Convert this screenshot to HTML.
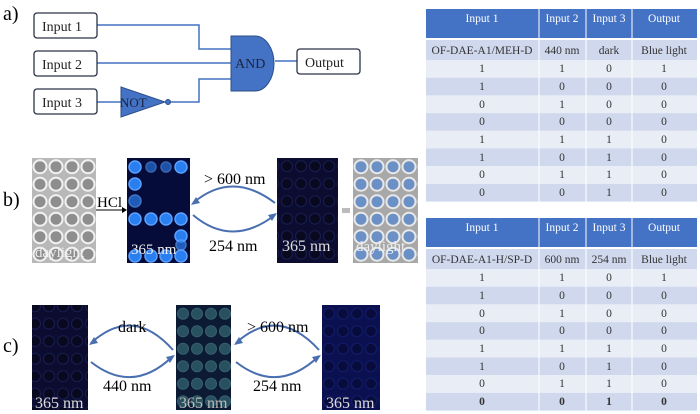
<!DOCTYPE html>
<html><head><style>
body{margin:0;background:#fff;}
svg{display:block;font-family:"Liberation Serif",serif;}
</style></head><body>
<svg width="700" height="414" viewBox="0 0 700 414" xmlns="http://www.w3.org/2000/svg">
<defs>
<pattern id="wd" x="32" y="158" width="16" height="17.5" patternUnits="userSpaceOnUse"><rect width="16" height="17.5" fill="#b8b8b8"/><circle cx="8" cy="8.7" r="6.5" fill="#8e8e8e" stroke="#f2f2f2" stroke-width="2"/></pattern>
<pattern id="wd2" x="353" y="158" width="16" height="17.5" patternUnits="userSpaceOnUse"><rect width="16" height="17.5" fill="#a8a8a8"/><circle cx="8" cy="8.7" r="6.5" fill="#6a90c5" stroke="#e8e8e8" stroke-width="2"/></pattern>
<pattern id="dk" width="14" height="17.5" patternUnits="userSpaceOnUse"><rect width="14" height="17.5" fill="#0c0c30"/><circle cx="7" cy="8.7" r="5.5" fill="#08081f" stroke="#161b4c" stroke-width="1.2"/></pattern>
<pattern id="dk3" x="322" y="305" width="14" height="17.5" patternUnits="userSpaceOnUse"><rect width="14" height="17.5" fill="#0a1050"/><circle cx="7" cy="8.7" r="5.5" fill="#070c3c" stroke="#121a66" stroke-width="1.2"/></pattern>
<pattern id="gr" x="176" y="305" width="14" height="17.5" patternUnits="userSpaceOnUse"><rect width="14" height="17.5" fill="#0d1a33"/><circle cx="7" cy="8.7" r="5.5" fill="#28505f" stroke="#34606e" stroke-width="1"/></pattern>
</defs>
<!-- panel a -->
<text x="3" y="20" font-size="20">a)</text>
<g fill="none" stroke="#4472c4" stroke-width="1.5">
<polyline points="97,25 199,25 199,49 232,49"/>
<line x1="97" y1="63" x2="232" y2="63"/>
<line x1="97" y1="102" x2="121" y2="102"/>
<polyline points="170,102 199,102 199,79 232,79"/>
<line x1="275" y1="61" x2="297" y2="61"/>
</g>
<g fill="#fff" stroke="#2a3346" stroke-width="1.3">
<rect x="34" y="13" width="63" height="25" rx="3"/>
<rect x="34" y="51" width="63" height="25" rx="3"/>
<rect x="34" y="89" width="63" height="25" rx="3"/>
<rect x="297" y="49" width="63" height="25" rx="3"/>
</g>
<g font-size="14" fill="#222">
<text x="42" y="31">Input 1</text>
<text x="42" y="69">Input 2</text>
<text x="42" y="107">Input 3</text>
<text x="305" y="67">Output</text>
</g>
<path d="M231,36 H255 A19,27.5 0 0 1 255,91 H231 Z" fill="#4472c4" stroke="#2e4f8a" stroke-width="1"/>
<text x="235" y="68" font-size="14" fill="#1a2540">AND</text>
<path d="M121,87 L165,102 L121,117 Z" fill="#4472c4" stroke="#2e4f8a" stroke-width="1"/>
<circle cx="168" cy="102" r="2.5" fill="#4472c4" stroke="#2e4f8a"/>
<text x="120" y="107" font-size="13" fill="#1a2540">NOT</text>
<!-- panel b -->
<text x="3" y="206" font-size="20">b)</text>
<rect x="32" y="158" width="64" height="105" fill="url(#wd)"/>
<text x="35" y="257" font-size="15" fill="#eee">daylight</text>
<line x1="96" y1="210" x2="124" y2="210" stroke="#000" stroke-width="1"/>
<path d="M127,210 l-5,-3 v6 z"/>
<text x="97" y="207" font-size="15">HCl</text>
<rect x="127" y="158" width="63" height="105" fill="#050c3a"/>
<g fill="#2a7ff0" stroke="#5aa0ff" stroke-width="1.5">
<circle cx="135" cy="167" r="6"/><circle cx="151" cy="167" r="5" opacity=".6"/><circle cx="166" cy="167" r="5" opacity=".6"/><circle cx="181" cy="167" r="6"/>
<circle cx="135" cy="184" r="6"/><circle cx="135" cy="201" r="6" opacity=".7"/>
<circle cx="135" cy="219" r="6"/><circle cx="151" cy="219" r="6"/><circle cx="166" cy="219" r="6"/><circle cx="181" cy="219" r="6"/>
<circle cx="181" cy="236" r="6"/><circle cx="181" cy="245" r="5" opacity=".7"/>
<circle cx="135" cy="256" r="6"/><circle cx="151" cy="256" r="6"/><circle cx="166" cy="256" r="6"/><circle cx="181" cy="256" r="6"/>
</g>
<text x="131" y="254" font-size="15" fill="#eee">365 nm</text>
<g fill="none" stroke="#4a6fb0" stroke-width="2">
<path d="M193,203 Q232,170 275,203"/>
<path d="M193,215 Q232,248 275,215"/>
</g>
<path d="M191,205 l9,-2 l-4,-6 z M277,213 l-9,2 l4,6 z" fill="#4a6fb0"/>
<text x="204" y="184" font-size="16">&gt; 600 nm</text>
<text x="209" y="251" font-size="16">254 nm</text>
<rect x="277" y="158" width="61" height="105" fill="url(#dk)"/>
<text x="282" y="251" font-size="16" fill="#ddd">365 nm</text>
<rect x="342" y="208" width="8" height="5" fill="#bbb"/>
<rect x="353" y="158" width="65" height="105" fill="url(#wd2)"/>
<text x="356" y="251" font-size="15" fill="#eee">daylight</text>
<!-- panel c -->
<text x="3" y="352" font-size="20">c)</text>
<rect x="32" y="305" width="56" height="105" fill="url(#dk)"/>
<text x="35" y="408" font-size="16" fill="#ddd">365 nm</text>
<g fill="none" stroke="#4a6fb0" stroke-width="2">
<path d="M91,343 Q133,305 173,350"/>
<path d="M91,362 Q133,395 173,356"/>
<path d="M236,343 Q278,305 319,350"/>
<path d="M236,362 Q278,395 319,356"/>
</g>
<path d="M89,345 l9,-2 l-4,-6 z M175,355 l-9,2 l4,6 z M234,345 l9,-2 l-4,-6 z M321,355 l-9,2 l4,6 z" fill="#4a6fb0"/>
<text x="118" y="332" font-size="16">dark</text>
<text x="103" y="391" font-size="16">440 nm</text>
<rect x="176" y="305" width="55" height="105" fill="url(#gr)"/>
<text x="179" y="408" font-size="16" fill="#bbb">365 nm</text>
<text x="247" y="332" font-size="16">&gt; 600 nm</text>
<text x="253" y="391" font-size="16">254 nm</text>
<rect x="322" y="305" width="58" height="105" fill="url(#dk3)"/>
<text x="326" y="408" font-size="16" fill="#ddd">365 nm</text>
<!-- table 1 -->
<g font-size="11.5" text-anchor="middle">
<rect x="426" y="9" width="271" height="29" fill="#4472c4"/>
<g stroke="#fff" stroke-width="1"><line x1="539" y1="9" x2="539" y2="202"/><line x1="586" y1="9" x2="586" y2="202"/><line x1="632" y1="9" x2="632" y2="202"/></g>
<g fill="#fff"><text x="482" y="22">Input 1</text><text x="562" y="22">Input 2</text><text x="609" y="22">Input 3</text><text x="664" y="22">Output</text></g>
<rect x="426" y="40" width="271" height="20" fill="#cfd8ec"/>
<rect x="426" y="60" width="271" height="17.7" fill="#e9edf6"/>
<rect x="426" y="77.7" width="271" height="17.7" fill="#cfd8ec"/>
<rect x="426" y="95.4" width="271" height="17.7" fill="#e9edf6"/>
<rect x="426" y="113.1" width="271" height="17.7" fill="#cfd8ec"/>
<rect x="426" y="130.8" width="271" height="17.7" fill="#e9edf6"/>
<rect x="426" y="148.5" width="271" height="17.7" fill="#cfd8ec"/>
<rect x="426" y="166.2" width="271" height="17.7" fill="#e9edf6"/>
<rect x="426" y="183.9" width="271" height="17.7" fill="#cfd8ec"/>
<g stroke="#fff" stroke-width="1"><line x1="539" y1="40" x2="539" y2="202"/><line x1="586" y1="40" x2="586" y2="202"/><line x1="632" y1="40" x2="632" y2="202"/></g>
<g fill="#333">
<text x="482" y="54">OF-DAE-A1/MEH-D</text><text x="562" y="54">440 nm</text><text x="609" y="54">dark</text><text x="664" y="54">Blue light</text>
<text x="482" y="72">1</text><text x="562" y="72">1</text><text x="609" y="72">0</text><text x="664" y="72">1</text>
<text x="482" y="90">1</text><text x="562" y="90">0</text><text x="609" y="90">0</text><text x="664" y="90">0</text>
<text x="482" y="108">0</text><text x="562" y="108">1</text><text x="609" y="108">0</text><text x="664" y="108">0</text>
<text x="482" y="125">0</text><text x="562" y="125">0</text><text x="609" y="125">0</text><text x="664" y="125">0</text>
<text x="482" y="143">1</text><text x="562" y="143">1</text><text x="609" y="143">1</text><text x="664" y="143">0</text>
<text x="482" y="161">1</text><text x="562" y="161">0</text><text x="609" y="161">1</text><text x="664" y="161">0</text>
<text x="482" y="178">0</text><text x="562" y="178">1</text><text x="609" y="178">1</text><text x="664" y="178">0</text>
<text x="482" y="196">0</text><text x="562" y="196">0</text><text x="609" y="196">1</text><text x="664" y="196">0</text>
</g>
</g>
<!-- table 2 -->
<g font-size="11.5" text-anchor="middle">
<rect x="426" y="218" width="271" height="29" fill="#4472c4"/>
<g fill="#fff"><text x="482" y="231">Input 1</text><text x="562" y="231">Input 2</text><text x="609" y="231">Input 3</text><text x="664" y="231">Output</text></g>
<rect x="426" y="249" width="271" height="20" fill="#cfd8ec"/>
<rect x="426" y="269" width="271" height="17.7" fill="#e9edf6"/>
<rect x="426" y="286.7" width="271" height="17.7" fill="#cfd8ec"/>
<rect x="426" y="304.4" width="271" height="17.7" fill="#e9edf6"/>
<rect x="426" y="322.1" width="271" height="17.7" fill="#cfd8ec"/>
<rect x="426" y="339.8" width="271" height="17.7" fill="#e9edf6"/>
<rect x="426" y="357.5" width="271" height="17.7" fill="#cfd8ec"/>
<rect x="426" y="375.2" width="271" height="17.7" fill="#e9edf6"/>
<rect x="426" y="392.9" width="271" height="17.7" fill="#cfd8ec"/>
<g stroke="#fff" stroke-width="1"><line x1="539" y1="218" x2="539" y2="411"/><line x1="586" y1="218" x2="586" y2="411"/><line x1="632" y1="218" x2="632" y2="411"/></g>
<g fill="#333">
<text x="482" y="263">OF-DAE-A1-H/SP-D</text><text x="562" y="263">600 nm</text><text x="609" y="263">254 nm</text><text x="664" y="263">Blue light</text>
<text x="482" y="281">1</text><text x="562" y="281">1</text><text x="609" y="281">0</text><text x="664" y="281">1</text>
<text x="482" y="299">1</text><text x="562" y="299">0</text><text x="609" y="299">0</text><text x="664" y="299">0</text>
<text x="482" y="317">0</text><text x="562" y="317">1</text><text x="609" y="317">0</text><text x="664" y="317">0</text>
<text x="482" y="334">0</text><text x="562" y="334">0</text><text x="609" y="334">0</text><text x="664" y="334">0</text>
<text x="482" y="352">1</text><text x="562" y="352">1</text><text x="609" y="352">1</text><text x="664" y="352">0</text>
<text x="482" y="370">1</text><text x="562" y="370">0</text><text x="609" y="370">1</text><text x="664" y="370">0</text>
<text x="482" y="387">0</text><text x="562" y="387">1</text><text x="609" y="387">1</text><text x="664" y="387">0</text>
<g font-weight="bold"><text x="482" y="405">0</text><text x="562" y="405">0</text><text x="609" y="405">1</text><text x="664" y="405">0</text></g>
</g>
</g>
</svg>
</body></html>
